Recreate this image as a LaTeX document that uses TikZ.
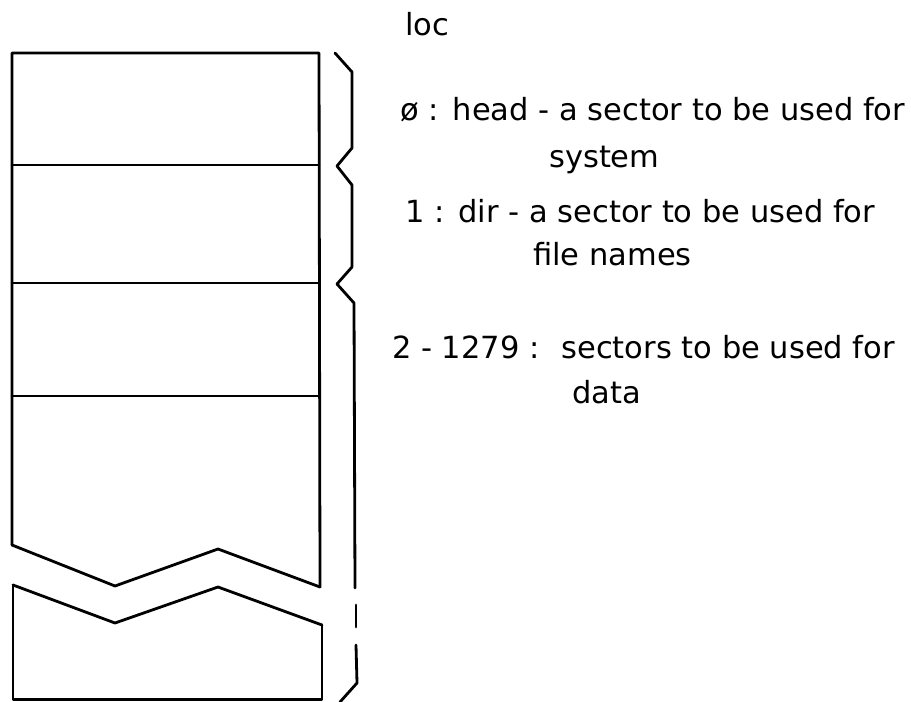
\documentclass[tikz,border=0pt]{standalone}
\usepackage{fontspec}
\setmainfont{DejaVu Sans}
\begin{document}
\begin{tikzpicture}[x=1pt,y=-1pt,
  ln/.style={line width=2.8pt,line join=round,line cap=round},
  txt/.style={anchor=base west,inner sep=0pt,font=\fontsize{30.5}{37}\selectfont}]
\useasboundingbox (0,0) rectangle (911,702);
% upper block of the column
\draw[ln] (12,545) -- (12,53) -- (319,53) -- (320,587);
\draw[ln] (12,545) -- (115,586) -- (218,549) -- (320,587);
\draw[ln] (12,165) -- (319,165);
\draw[ln] (12,283) -- (319,283);
\draw[ln] (12,396) -- (319,396);
% lower block
\draw[ln] (13,585) -- (115,623) -- (218,587) -- (322,625);
\draw[ln] (13,585) -- (13,699.5) -- (322,699.5) -- (322,625);
% brace
\draw[ln] (335,53) -- (352,72) -- (352,148) -- (337,166) -- (352,185) -- (352,267)
  -- (337,284) -- (354,303) -- (355,588);
\draw[ln] (356,605) -- (356,627);
\draw[ln] (356,645) -- (357,683) -- (340,702);
% texts
\node[txt] (loc) at (405,35) {loc};
\node[txt] (l1) at (400,120) {ø :\hspace{14pt}head - a sector to be used for};
\node[txt] (l1b) at (549,167) {system};
\node[txt] (l2) at (405,222) {1 :\hspace{14pt}dir - a sector to be used for};
\node[txt] (l2b) at (533,265) {file names};
\node[txt] (l3) at (392,358) {2 - 1279 :\hspace{22pt}sectors to be used for};
\node[txt] (l3b) at (572,403) {data};
\end{tikzpicture}
\end{document}
